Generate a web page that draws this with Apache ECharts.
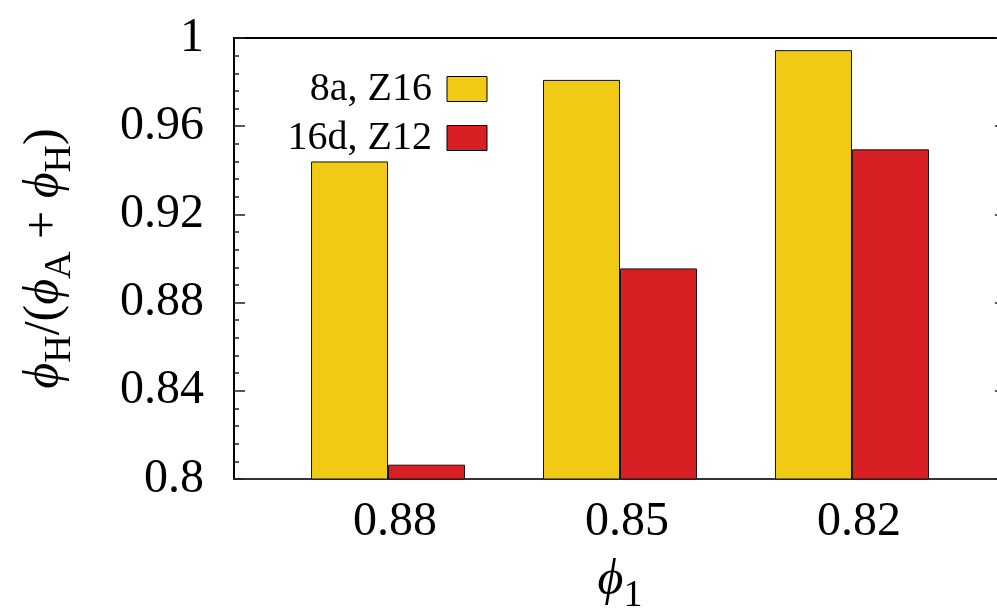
<!DOCTYPE html>
<html>
<head>
<meta charset="utf-8">
<script src="https://cdn.jsdelivr.net/npm/echarts@6/dist/echarts.min.js"></script>
<style>html,body{margin:0;padding:0;background:#fff}#c{width:997px;height:610px}</style>
</head>
<body>
<div id="c"></div>
<script>
// ---- data ----
const categories = ['0.88', '0.85', '0.82'];
const xPositions = [0, 1, 2];
const seriesNames = ['8a, Z16', '16d, Z12'];
const values8a = [0.944, 0.981, 0.9945];
const values16d = [0.8065, 0.8955, 0.9495];
const yMin = 0.8, yMax = 1.0, yStep = 0.04;

const FONT = 'Liberation Serif, DejaVu Serif, serif';
const richName = {
  i: {fontFamily: FONT, fontStyle: 'italic', fontSize: 50, lineHeight: 50, verticalAlign: 'top', color: '#000'},
  n: {fontFamily: FONT, fontSize: 50, lineHeight: 50, verticalAlign: 'top', color: '#000'},
  s: {fontFamily: FONT, fontSize: 38, lineHeight: 38, padding: [21, 0, 0, 0], verticalAlign: 'top', color: '#000'}
};

const chart = echarts.init(document.getElementById('c'), null, {renderer: 'canvas'});
const yCommon = {
  type: 'value', min: yMin, max: yMax, interval: yStep,
  axisLine: {show: true, onZero: false, lineStyle: {color: '#000', width: 2}},
  axisTick: {show: true, inside: true, length: 11, lineStyle: {color: '#222', width: 1.5}},
  minorTick: {show: true, splitNumber: 5, length: 5, lineStyle: {color: '#222', width: 1.5}},
  splitLine: {show: false}
};
chart.setOption({
  animation: false,
  backgroundColor: '#fff',
  grid: {left: 234, right: -9, top: 38, bottom: 131, show: true, borderColor: '#000', borderWidth: 2,
         containLabel: false, outerBoundsMode: 'none'},
  legend: {
    data: seriesNames, orient: 'vertical', left: 277, top: 64,
    itemWidth: 40, itemHeight: 25, itemGap: 9, align: 'right', icon: 'rect',
    itemStyle: {borderColor: '#000', borderWidth: 1},
    textStyle: {fontFamily: FONT, fontSize: 40, lineHeight: 40, color: '#000', width: 150, align: 'right', padding: [0, 10, 0, 0]}
  },
  xAxis: {
    type: 'value', min: -0.664, max: 2.664,
    axisLine: {show: true, onZero: false, lineStyle: {color: '#333', width: 2}},
    axisTick: {show: false}, splitLine: {show: false},
    axisLabel: {
      customValues: xPositions,
      formatter: v => categories[Math.round(v)],
      fontFamily: FONT, fontSize: 48, lineHeight: 48, color: '#000', margin: 19, padding: [0, 0, 0, 14]
    },
    name: '{i|ϕ}{s|1}', nameLocation: 'middle', nameGap: 77,
    nameTextStyle: {rich: richName}
  },
  yAxis: [
    Object.assign({}, yCommon, {
      position: 'left',
      axisLabel: {fontFamily: FONT, fontSize: 48, color: '#000', margin: 30},
      name: '{i|ϕ}{s|H}{n|/(}{i|ϕ}{s|A}{n| + }{i|ϕ}{s|H}{n|)}',
      nameLocation: 'middle', nameRotate: 90, nameGap: 164,
      nameTextStyle: {rich: richName}
    }),
    Object.assign({}, yCommon, {position: 'right', axisLabel: {show: false}})
  ],
  series: [
    {name: seriesNames[0], type: 'bar', barWidth: 77, barGap: '0%',
     itemStyle: {color: '#F0CA14', borderColor: '#111', borderWidth: 1},
     data: xPositions.map((x, i) => [x, values8a[i]])},
    {name: seriesNames[1], type: 'bar', barWidth: 77, barGap: '0%',
     itemStyle: {color: '#D82024', borderColor: '#111', borderWidth: 1},
     data: xPositions.map((x, i) => [x, values16d[i]])}
  ]
});
</script>
</body>
</html>
